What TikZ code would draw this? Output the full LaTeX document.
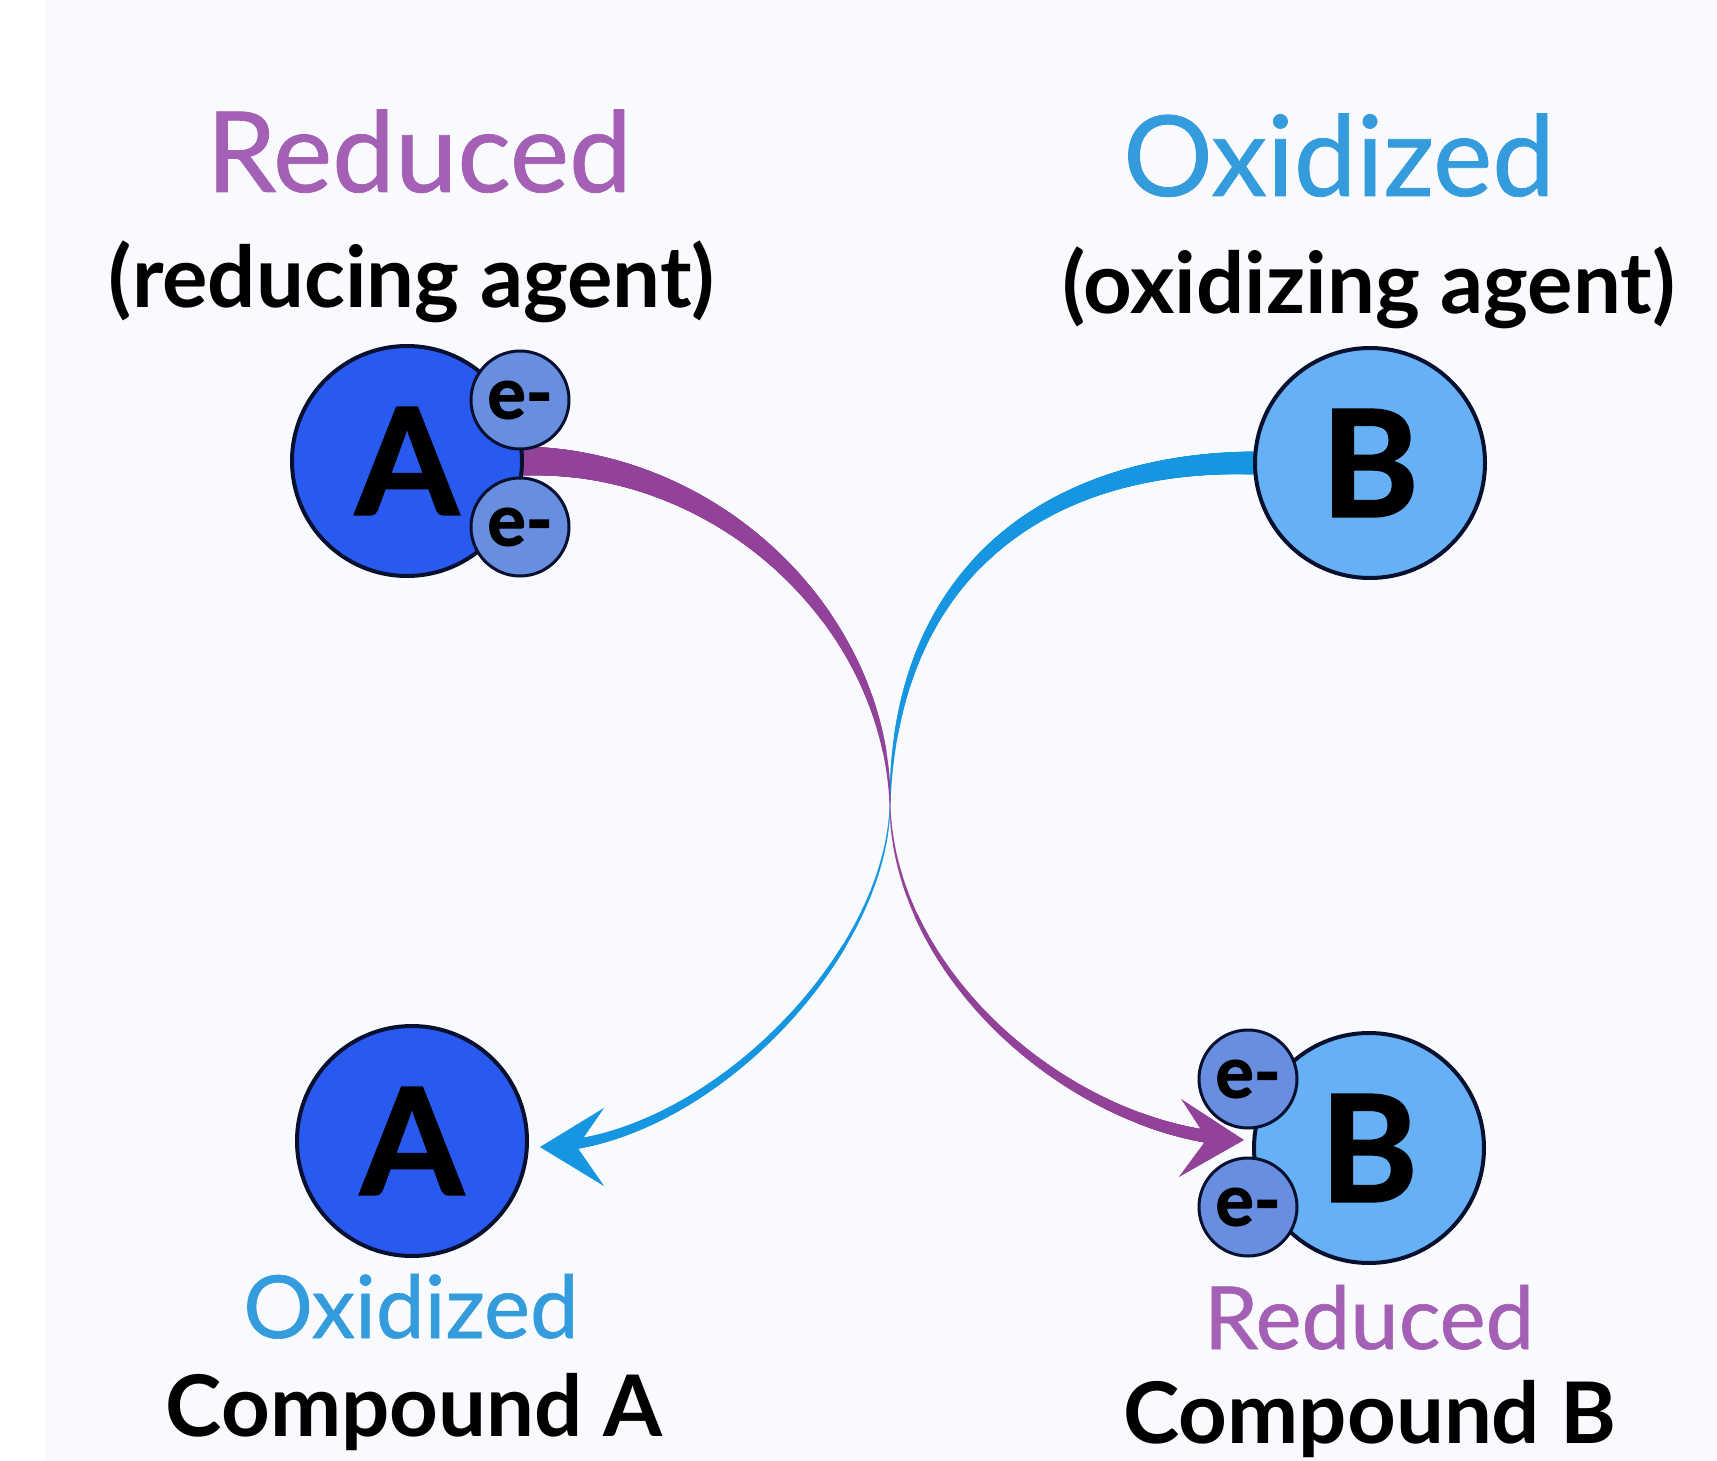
\documentclass[tikz,border=0pt]{standalone}
\usepackage{fontspec}
\setmainfont{Lato}
\newfontfamily\heavyfont{Lato}[BoldFeatures={FakeBold=1.5}]
\newfontfamily\medfont{Lato}[FakeBold=0.7]
\usetikzlibrary{positioning,arrows.meta,decorations.markings,backgrounds}

\definecolor{bgpage}{RGB}{248,250,253}
\definecolor{compA}{RGB}{40,90,240}
\definecolor{compB}{RGB}{102,176,245}
\definecolor{elecfill}{RGB}{104,142,224}
\definecolor{rimnavy}{RGB}{8,16,48}
\definecolor{redpurple}{RGB}{146,66,152}
\definecolor{oxblue}{RGB}{22,150,224}
\definecolor{redtext}{RGB}{163,96,180}
\definecolor{oxtext}{RGB}{52,156,220}

% tapered stroke: colour / start radius / end radius / last mark
\tikzset{
  taper/.style n args={4}{postaction={decorate,decoration={markings,
    mark=between positions 0 and #4 step 1pt with {%
      \pgfmathsetmacro\taprad{#2+(#3-#2)*\pgfkeysvalueof{/pgf/decoration/mark info/distance from start}/\pgfdecoratedpathlength}%
      \fill[#1] (0,0) circle[radius=\taprad pt];}}}},
  tiphead/.style={postaction={decorate,decoration={markings,
    mark=at position 1 with {\arrow[#1]{Stealth[length=64pt,width=78pt,inset=27pt]}}}}},
}

\begin{document}
\begin{tikzpicture}[x=1pt,y=-1pt,
  compound/.style={circle, draw=rimnavy, line width=4pt, inner sep=0pt,
                   minimum size=230pt, font=\heavyfont\bfseries\fontsize{148}{150}\selectfont},
  electron/.style={circle, draw=rimnavy, line width=3pt, fill=elecfill, inner sep=0pt,
                   minimum size=98pt, font=\heavyfont\bfseries\fontsize{72}{72}\selectfont},
  statelbl/.style={anchor=base, font=\medfont\fontsize{112}{114}\selectfont},
  smallstate/.style={anchor=base, font=\medfont\fontsize{87}{89}\selectfont},
  cmpdlbl/.style={anchor=base, font=\bfseries\fontsize{85}{87}\selectfont}
]
\useasboundingbox (0,0) rectangle (1717,1461);

% compounds before the transfer
\node[compound, fill=compA] (Ared) at (407,461) {A};
\node[electron] (Ared-e1) at ([shift={(113,-61)}]Ared.center) {e-};
\node[electron] (Ared-e2) at ([shift={(113,66)}]Ared.center) {e-};
\node[compound, fill=compB] (Box) at (1370,463) {B};

% compounds after the transfer
\node[compound, fill=compA] (Aox) at (412,1141) {A};
\node[compound, fill=compB] (Bred) at (1369,1148) {B};
\node[electron] (Bred-e1) at ([shift={(-121,-69)}]Bred.center) {e-};
\node[electron] (Bred-e2) at ([shift={(-121,59)}]Bred.center) {e-};

% labels
\node[statelbl, text=redtext] (redlbl) at (419,192) {Reduced};
\node[cmpdlbl] (redagent) at (412,307) {(reducing agent)};
\node[statelbl, text=oxtext] (oxlbl) at (1339,196) {Oxidized};
\node[cmpdlbl] (oxagent) at (1369,313) {(oxidizing agent)};
\node[smallstate, text=oxtext] (oxA) at (411,1338) {Oxidized};
\node[cmpdlbl] (cmpA) at (414,1436) {Compound A};
\node[smallstate, text=redtext] (redB) at (1369,1349) {Reduced};
\node[cmpdlbl] (cmpB) at (1370,1443) {Compound B};

\begin{scope}[on background layer]
  \fill[bgpage] (0,0) rectangle (1717,1461);
  \fill[white] (0,0) rectangle (45,1461);
  \coordinate (cross) at (890,803);
  % electrons handed over by B: blue path
  \path[taper={oxblue}{11.5}{0.6}{1}] (Box.west) .. controls (1060,461) and (895,560) .. (cross);
  \path[taper={oxblue}{0.6}{5.5}{-30pt}, tiphead=oxblue] (cross) .. controls (888,960) and (700,1147) .. ([shift={(11,6)}]Aox.east);
  % electrons from A to B: purple path
  \path[taper={redpurple}{14.5}{0.6}{1}] (Ared.east) .. controls (720,460) and (886,620) .. (cross);
  \path[taper={redpurple}{0.6}{7}{-30pt}, tiphead=redpurple] (cross) .. controls (892,980) and (1080,1135) .. ([shift={(-8,-8)}]Bred.west);
\end{scope}
\end{tikzpicture}
\end{document}
